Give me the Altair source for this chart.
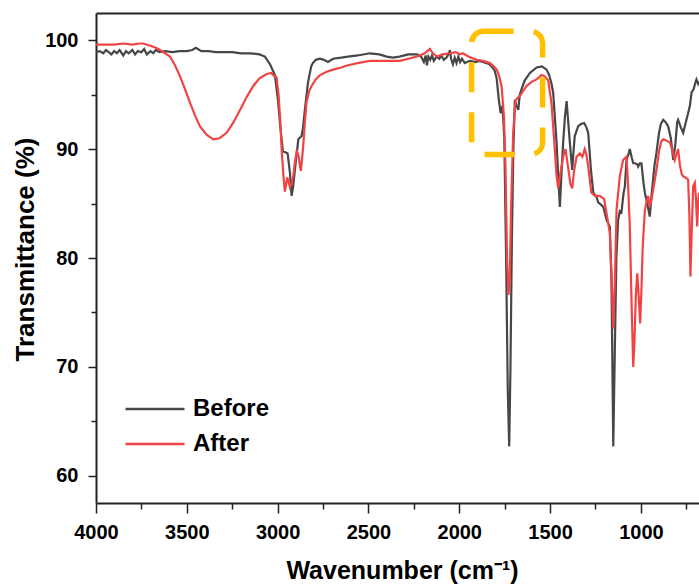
import altair as alt
import pandas as pd

# ---- data ----
before_wn = [4000, 3980, 3960, 3945, 3930, 3915, 3900, 3885, 3870, 3850, 3835, 3820, 3800, 3785, 3770,
             3750, 3735, 3720, 3700, 3685, 3670, 3650, 3620, 3580, 3540, 3500, 3470, 3450, 3420, 3380,
             3340, 3300, 3250, 3200, 3150, 3100, 3070, 3042, 3015, 2998, 2985, 2971, 2955, 2945, 2932,
             2923, 2915, 2905, 2886, 2868, 2860, 2850, 2833, 2815, 2806, 2790, 2767, 2745, 2723, 2695,
             2650, 2613, 2560, 2492, 2440, 2400, 2365, 2330, 2280, 2233, 2210, 2195, 2185, 2178, 2170,
             2160, 2150, 2140, 2125, 2110, 2100, 2085, 2070, 2060, 2051, 2045, 2035, 2025, 2015, 2005,
             1995, 1985, 1970, 1958, 1940, 1910, 1890, 1870, 1850, 1835, 1822, 1805, 1794, 1782, 1772,
             1762, 1752, 1742, 1733, 1725, 1718, 1710, 1702, 1694, 1685, 1675, 1667, 1657, 1640, 1611,
             1574, 1545, 1519, 1505, 1492, 1483, 1464, 1455, 1446, 1437, 1428, 1418, 1409, 1400, 1391,
             1378, 1370, 1364, 1345, 1330, 1312, 1300, 1290, 1275, 1262, 1244, 1235, 1220, 1207, 1189,
             1171, 1162, 1152, 1143, 1135, 1125, 1116, 1107, 1095, 1088, 1079, 1067, 1061, 1050, 1042,
             1033, 1020, 1015, 1006, 997, 985, 978, 965, 951, 940, 925, 914, 900, 890, 877,
             865, 850, 835, 822, 810, 800, 795, 780, 767, 755, 740, 730, 721, 710, 700,
             694, 685, 680]
before_t = [98.9, 99.0, 98.8, 99.1, 98.9, 98.7, 99.0, 98.8, 99.1, 98.6, 99.0, 98.8, 99.1, 98.7, 99.0,
            98.9, 99.2, 98.7, 99.0, 98.8, 99.1, 98.9, 99.0, 98.9, 99.0, 99.0, 99.1, 99.3, 99.0, 99.0,
            98.9, 98.9, 98.9, 98.8, 98.8, 98.7, 98.5, 97.8, 96.8, 94.5, 92.0, 89.8, 89.7, 89.6, 87.8,
            85.7, 86.5, 88.1, 90.9, 91.2, 92.0, 93.6, 96.1, 97.6, 97.9, 98.2, 98.3, 98.2, 98.0, 98.3,
            98.4, 98.5, 98.6, 98.8, 98.7, 98.5, 98.4, 98.5, 98.7, 98.7, 98.5, 98.0, 98.6, 97.7, 98.5,
            98.2, 98.6, 98.1, 98.5, 98.3, 98.6, 98.2, 98.4, 98.7, 99.1, 98.3, 97.8, 98.4, 97.9, 98.5,
            98.0, 98.3, 97.9, 98.0, 98.1, 98.0, 98.1, 98.0, 97.9, 97.8, 97.6, 97.2, 96.5, 94.5, 93.3,
            94.0, 91.0, 80.0, 68.0, 62.7, 70.0, 82.0, 90.0, 94.5, 94.0, 93.6, 95.0, 95.5, 96.3, 97.0,
            97.5, 97.6, 97.3, 96.8, 96.0, 95.2, 90.6, 87.5, 84.7, 87.8, 90.6, 93.0, 94.4, 92.5, 90.6,
            88.1, 90.0, 91.2, 92.1, 92.3, 92.4, 92.0, 91.5, 88.1, 86.0, 85.6, 85.1, 84.9, 84.7, 83.5,
            82.9, 78.0, 62.7, 72.0, 80.0, 83.5, 84.3, 84.2, 86.0, 86.6, 89.0, 89.6, 90.0, 89.2, 88.7,
            88.7, 88.6, 88.4, 88.7, 88.7, 86.8, 86.0, 85.0, 83.8, 86.0, 88.5, 89.7, 91.5, 92.3, 92.7,
            92.5, 92.1, 91.0, 89.0, 90.5, 92.5, 92.7, 92.0, 91.5, 92.3, 93.3, 94.0, 95.2, 95.5, 96.1,
            96.4, 96.0, 96.2]

after_wn = [4000, 3950, 3900, 3850, 3800, 3760, 3741, 3700, 3670, 3648, 3620, 3593, 3565, 3538, 3510,
            3483, 3455, 3428, 3390, 3354, 3320, 3281, 3245, 3207, 3170, 3134, 3100, 3060, 3035, 3024,
            3006, 2995, 2985, 2978, 2968, 2960, 2953, 2947, 2940, 2932, 2924, 2914, 2905, 2895, 2889,
            2883, 2877, 2872, 2866, 2859, 2850, 2841, 2827, 2813, 2790, 2767, 2730, 2695, 2650, 2613,
            2560, 2492, 2420, 2327, 2280, 2233, 2190, 2162, 2145, 2123, 2090, 2051, 2020, 1995, 1980,
            1950, 1904, 1870, 1831, 1810, 1794, 1780, 1767, 1754, 1745, 1737, 1729, 1722, 1714, 1703,
            1690, 1678, 1666, 1650, 1629, 1600, 1574, 1547, 1530, 1519, 1510, 1492, 1474, 1464, 1455,
            1446, 1437, 1425, 1415, 1405, 1396, 1388, 1378, 1368, 1354, 1336, 1322, 1309, 1300, 1290,
            1280, 1272, 1253, 1226, 1202, 1189, 1178, 1171, 1162, 1152, 1143, 1134, 1125, 1116, 1098,
            1079, 1070, 1061, 1050, 1042, 1035, 1028, 1020, 1012, 1004, 997, 990, 978, 968, 960,
            951, 940, 925, 914, 900, 888, 877, 860, 840, 825, 813, 803, 795, 785, 775,
            767, 755, 740, 733, 727, 721, 712, 703, 697, 690, 685, 680]
after_t = [99.6, 99.6, 99.6, 99.7, 99.6, 99.7, 99.7, 99.5, 99.3, 99.1, 98.8, 98.5, 97.7, 96.7, 95.5,
           94.3, 93.1, 92.1, 91.3, 90.9, 91.0, 91.5, 92.4, 93.6, 94.8, 95.8, 96.5, 96.9, 97.0, 96.8,
           96.6, 95.0, 92.5, 90.0, 87.5, 86.1, 86.8, 87.4, 87.0, 86.5, 86.8, 87.5, 88.8, 89.8, 89.6,
           89.2, 88.4, 88.0, 89.0, 90.3, 92.5, 94.3, 95.3, 95.8, 96.4, 96.8, 97.1, 97.3, 97.5, 97.7,
           97.9, 98.1, 98.1, 98.1, 98.3, 98.5, 98.8, 99.2, 98.8, 98.5, 98.7, 98.8, 98.9, 98.7, 98.8,
           98.5, 98.2, 98.1, 97.9, 97.6, 97.3, 96.7, 95.8, 93.0, 88.0, 80.0, 76.6, 78.0, 85.0, 91.5,
           94.5, 94.7, 94.9, 95.3, 95.8, 96.2, 96.4, 96.8, 96.7, 96.5, 96.3, 94.2, 90.0, 87.5, 86.4,
           87.5, 88.4, 89.5, 90.0, 88.8, 87.8, 86.8, 86.4, 88.0, 89.3, 89.6, 89.3, 90.0, 89.5, 88.4,
           87.0, 86.0, 85.7, 85.7, 85.4, 84.1, 83.0, 82.3, 78.5, 73.5, 78.0, 84.4, 86.0, 87.5, 89.0,
           89.3, 86.5, 82.9, 75.0, 70.0, 72.5, 76.5, 78.6, 76.5, 74.0, 77.0, 81.0, 84.4, 85.2, 85.7,
           84.7, 85.5, 87.0, 88.1, 89.8, 90.7, 90.9, 90.8, 90.6, 89.8, 89.0, 89.6, 90.0, 88.5, 87.7,
           87.5, 87.4, 87.2, 84.0, 78.3, 82.0, 86.6, 86.9, 85.5, 82.9, 85.0, 86.0]

series_names = ["Before", "After"]
series_colors = ["#474747", "#f04444"]

x_ticks = [4000, 3750, 3500, 3250, 3000, 2750, 2500, 2250, 2000, 1750, 1500, 1250, 1000, 750]
y_ticks = [60, 65, 70, 75, 80, 85, 90, 95, 100]

# highlighted region (dashed box)
box_wn = [1932, 1541]
box_t = [100.83, 89.5]

df_before = pd.DataFrame({"wn": before_wn, "t": before_t, "series": "Before"})
df_after = pd.DataFrame({"wn": after_wn, "t": after_t, "series": "After"})
df_box = pd.DataFrame({"x1": [box_wn[0]], "x2": [box_wn[1]], "y1": [box_t[0]], "y2": [box_t[1]]})

FONT = "Liberation Sans"

x_scale = alt.Scale(domain=[4000, 680], nice=False, zero=False)
y_scale = alt.Scale(domain=[57.5, 102.5], nice=False, zero=False)

x_axis = alt.Axis(
    orient="bottom",
    values=x_ticks, format="d",
    labelExpr="datum.value % 500 === 0 ? datum.label : ''",
    tickSize={"condition": {"test": "datum.value % 500 === 0", "value": 10}, "value": 6},
    labelPadding=9, labelFlush=False, labelOverlap=False,
    title="Wavenumber (cm\u207b\u00b9)",
    titleX=306, titleY=75, titleBaseline="alphabetic", titleAlign="center",
    titleFontSize=25,
    grid=False,
)
y_axis = alt.Axis(
    orient="left",
    values=y_ticks, format="d",
    labelExpr="datum.value % 10 === 0 ? datum.label : ''",
    tickSize={"condition": {"test": "datum.value % 10 === 0", "value": 8}, "value": 5},
    labelPadding=10, labelFlush=False, labelOverlap=False,
    title="Transmittance (%)",
    titleX=-63, titleY=236, titleBaseline="alphabetic", titleAlign="center",
    titleFontSize=26, titleAngle=270,
    grid=False,
)
top_axis = alt.Axis(orient="top", labels=False, ticks=False, title=None, grid=False,
                    domainColor="#222222", domainWidth=2)

color = alt.Color(
    "series:N",
    scale=alt.Scale(domain=series_names, range=series_colors),
    legend=alt.Legend(
        orient="none", legendX=28, legendY=384, title=None,
        symbolType="stroke", symbolSize=3481, symbolStrokeWidth=2.5,
        labelFontSize=24, labelFont=FONT, labelFontWeight="bold", labelColor="black",
        clipHeight=24, rowPadding=11, labelOffset=7, symbolOffset=0, padding=0,
    ),
)

line_before = alt.Chart(df_before).mark_line(strokeWidth=2.2, clip=True).encode(
    x=alt.X("wn:Q", scale=x_scale, axis=x_axis),
    y=alt.Y("t:Q", scale=y_scale, axis=y_axis),
    color=color,
)
line_after = alt.Chart(df_after).mark_line(strokeWidth=2.2, clip=True).encode(
    x=alt.X("wn:Q", scale=x_scale, axis=None),
    y=alt.Y("t:Q", scale=y_scale, axis=None),
    color=color,
)
box = alt.Chart(df_box).mark_rect(
    filled=False, stroke="#FFC000", strokeWidth=5.5, strokeDash=[30, 20],
    cornerRadius=12, fill=None
).encode(
    x=alt.X("x1:Q", scale=x_scale, axis=top_axis),
    x2="x2:Q",
    y=alt.Y("y1:Q", scale=y_scale, axis=None),
    y2="y2:Q",
)

chart = alt.layer(line_before, line_after, box).resolve_scale(
    x="shared", y="shared"
).resolve_axis(
    x="independent", y="independent"
).properties(
    width=603, height=490,
    autosize=alt.AutoSizeParams(type="none"),
    padding={"left": 96, "top": 13, "right": 0, "bottom": 82},
).configure_view(stroke=None).configure_axis(
    labelFont=FONT, labelFontSize=20, labelFontWeight="bold", labelColor="black",
    titleFont=FONT, titleFontWeight="bold", titleColor="black",
    domainColor="#222222", domainWidth=2, tickColor="#222222", tickWidth=1.5,
)

chart.save("out.html", embed_options={"renderer": "svg", "actions": False})
